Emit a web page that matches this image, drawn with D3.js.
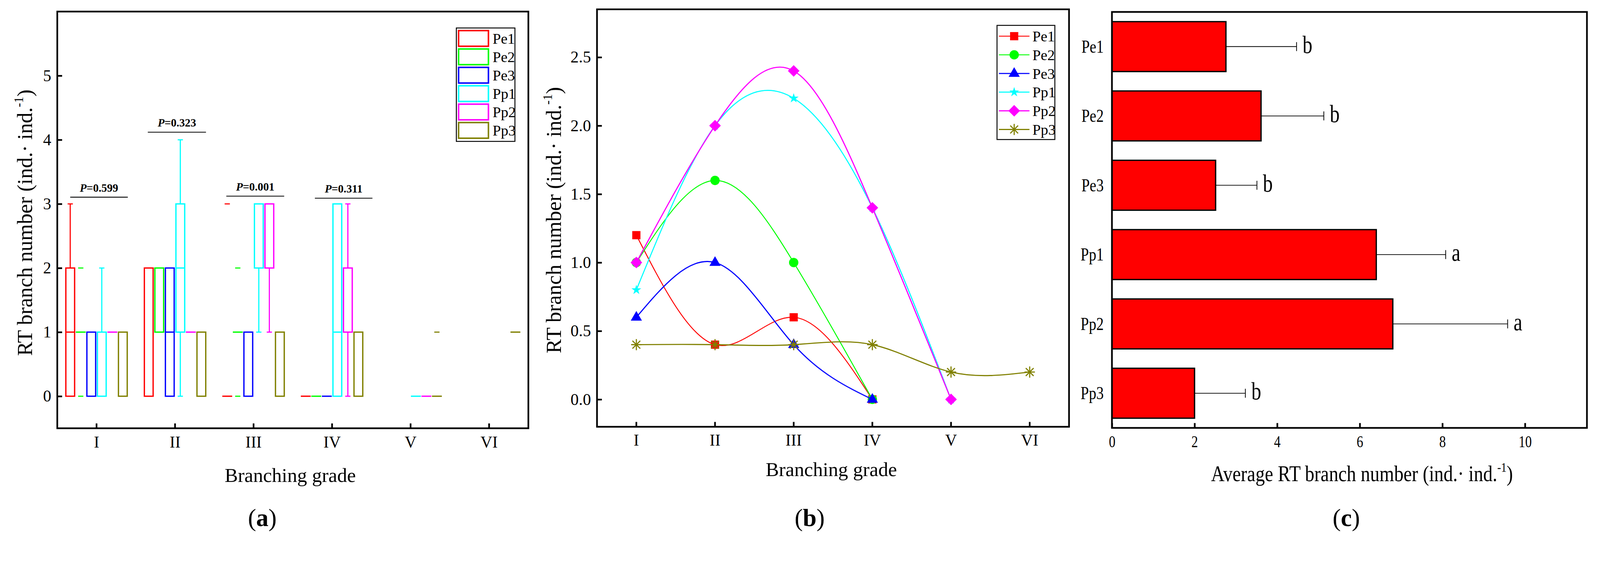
<!DOCTYPE html>
<html>
<head>
<meta charset="utf-8">
<script src="https://cdn.jsdelivr.net/npm/d3@7"></script>
<style>
  html, body { margin: 0; padding: 0; background: #fff; overflow: hidden; }
  svg { display: block; width: 100vw; height: auto; }
  text { font-family: "Liberation Serif", "Times New Roman", serif; fill: #000; }
</style>
</head>
<body>
<svg id="chart" viewBox="0 0 4288 1439" preserveAspectRatio="xMidYMid meet"></svg>
<script>
// ---------------- DATA ----------------
const grades = ["I", "II", "III", "IV", "V", "VI"];
const seriesNames = ["Pe1", "Pe2", "Pe3", "Pp1", "Pp2", "Pp3"];
const seriesColors = ["#ff0000", "#00ff00", "#0000ff", "#00ffff", "#ff00ff", "#808000"];

// (a) box statistics per grade: [min, q1, median, q3, max]
const pe1Box = [[0, 0, 1, 2, 3], [0, 0, 2, 2, 2], [0, 0, 0, 0, 0], [0, 0, 0, 0, 0], null, null];
const pe2Box = [[1, 1, 1, 1, 1], [1, 1, 2, 2, 2], [1, 1, 1, 1, 1], [0, 0, 0, 0, 0], null, null];
const pe3Box = [[0, 0, 1, 1, 1], [0, 0, 1, 2, 2], [0, 0, 1, 1, 1], [0, 0, 0, 0, 0], null, null];
const pp1Box = [[0, 0, 1, 1, 2], [0, 1, 2, 3, 4], [1, 2, 3, 3, 3], [0, 0, 1, 3, 3], [0, 0, 0, 0, 0], null];
const pp2Box = [[1, 1, 1, 1, 1], [1, 1, 1, 1, 1], [1, 2, 3, 3, 3], [0, 1, 2, 2, 3], [0, 0, 0, 0, 0], null];
const pp3Box = [[0, 0, 1, 1, 1], [0, 0, 1, 1, 1], [0, 0, 1, 1, 1], [0, 0, 1, 1, 1], [0, 0, 0, 0, 0], [1, 1, 1, 1, 1]];
// (a) outliers: [gradeIndex, value]
const pe1Out = [[2, 3]];
const pe2Out = [[0, 2], [0, 0], [2, 2], [2, 0]];
const pe3Out = [];
const pp1Out = [];
const pp2Out = [];
const pp3Out = [[4, 1]];
// (a) P-value annotations
const pValues = ["0.599", "0.323", "0.001", "0.311"];
const pBarLevel = [3.105, 4.118, 3.121, 3.089];
const pBarFrom = [-0.335, -0.347, -0.347, -0.219];
const pBarTo = [0.398, 0.394, 0.390, 0.514];
const yTicksA = [0, 1, 2, 3, 4, 5];

// (b) mean branch number per grade
const pe1Mean = [1.2, 0.4, 0.6, 0.0, null, null];
const pe2Mean = [1.0, 1.6, 1.0, 0.0, null, null];
const pe3Mean = [0.6, 1.0, 0.4, 0.0, null, null];
const pp1Mean = [0.8, 2.0, 2.2, 1.4, 0.0, null];
const pp2Mean = [1.0, 2.0, 2.4, 1.4, 0.0, null];
const pp3Mean = [0.4, 0.4, 0.4, 0.4, 0.2, 0.2];
const yTicksB = [0, 0.5, 1.0, 1.5, 2.0, 2.5];

// (c) average RT branch number
const avgValues = [2.76, 3.61, 2.51, 6.40, 6.80, 2.00];
const avgErrors = [1.71, 1.52, 1.00, 1.68, 2.78, 1.23];
const avgLetters = ["b", "b", "b", "a", "a", "b"];
const xTicksC = [0, 2, 4, 6, 8, 10];

// ---------------- HELPERS ----------------
const svg = d3.select("#chart");
const FRAME_W = 4.5;

function condense(sel, f) {
  sel.each(function () {
    const L = this.getComputedTextLength();
    d3.select(this).attr("textLength", L * f).attr("lengthAdjust", "spacingAndGlyphs");
  });
}

function styleAxis(g, fs) {
  g.select(".domain").remove();
  g.selectAll(".tick line").attr("stroke", "#000").attr("stroke-width", FRAME_W);
  g.selectAll(".tick text")
    .attr("font-family", "Liberation Serif, Times New Roman, serif")
    .attr("font-size", fs).attr("fill", "#000");
  g.attr("font-family", null).attr("font-size", null);
}

function frame(x0, x1, y0, y1) {
  svg.append("rect").attr("x", x0).attr("y", y0).attr("width", x1 - x0).attr("height", y1 - y0)
    .attr("fill", "none").attr("stroke", "#000").attr("stroke-width", FRAME_W);
}

function yTitle(x, y, fs) {
  const t = svg.append("text").attr("transform", `translate(${x},${y}) rotate(-90)`)
    .attr("text-anchor", "middle").attr("font-size", fs);
  t.append("tspan").text("RT branch number (ind.\u00B7 ind.");
  t.append("tspan").attr("font-size", fs * 0.6).attr("dy", -fs * 0.42).text("-1");
  t.append("tspan").attr("dy", fs * 0.42).text(")");
  return t;
}

function panelLabel(x, y, letter) {
  const t = svg.append("text").attr("x", x).attr("y", y).attr("text-anchor", "middle").attr("font-size", 66);
  t.append("tspan").text("(");
  t.append("tspan").attr("font-weight", "bold").text(letter);
  t.append("tspan").text(")");
}

// ---------------- PANEL (a) ----------------
{
  const L = 153.5, R = 1416, T = 31, B = 1148;
  const x = d3.scaleBand().domain(grades).range([L, R]);
  const y = d3.scaleLinear().domain([-0.5, 6]).range([B, T]);
  const bw = x.bandwidth();
  const slot = 28.2, boxW = 23.5, capW = 14;
  const boxes = [pe1Box, pe2Box, pe3Box, pp1Box, pp2Box, pp3Box];
  const outs = [pe1Out, pe2Out, pe3Out, pp1Out, pp2Out, pp3Out];

  const gA = svg.append("g");
  boxes.forEach((series, si) => {
    const col = seriesColors[si];
    const g = gA.append("g").attr("stroke", col).attr("fill", "none");
    series.forEach((s, gi) => {
      if (!s) return;
      const cx = x(grades[gi]) + bw / 2 + (si - 2.5) * slot;
      const [mn, q1, md, q3, mx] = s;
      if (mx > q3) {
        g.append("line").attr("x1", cx).attr("x2", cx).attr("y1", y(q3)).attr("y2", y(mx)).attr("stroke-width", 3);
        g.append("line").attr("x1", cx - capW / 2).attr("x2", cx + capW / 2).attr("y1", y(mx)).attr("y2", y(mx)).attr("stroke-width", 3);
      }
      if (mn < q1) {
        g.append("line").attr("x1", cx).attr("x2", cx).attr("y1", y(q1)).attr("y2", y(mn)).attr("stroke-width", 3);
        g.append("line").attr("x1", cx - capW / 2).attr("x2", cx + capW / 2).attr("y1", y(mn)).attr("y2", y(mn)).attr("stroke-width", 3);
      }
      if (q3 > q1) {
        g.append("rect").attr("x", cx - boxW / 2).attr("y", y(q3)).attr("width", boxW)
          .attr("height", y(q1) - y(q3)).attr("stroke-width", 3.5);
        if (md > q1 && md < q3) {
          g.append("line").attr("x1", cx - boxW / 2).attr("x2", cx + boxW / 2)
            .attr("y1", y(md)).attr("y2", y(md)).attr("stroke-width", 3.5);
        }
      } else {
        g.append("line").attr("x1", cx - boxW / 2 - 1.5).attr("x2", cx + boxW / 2 + 1.5)
          .attr("y1", y(q1)).attr("y2", y(q1)).attr("stroke-width", 3.5);
      }
    });
    outs[si].forEach(([gi, v]) => {
      const cx = x(grades[gi]) + bw / 2 + (si - 2.5) * slot;
      g.append("line").attr("x1", cx - capW / 2).attr("x2", cx + capW / 2)
        .attr("y1", y(v)).attr("y2", y(v)).attr("stroke-width", 3);
    });
  });

  // P-value annotations
  pValues.forEach((p, i) => {
    const c = x(grades[i]) + bw / 2;
    const x1 = c + pBarFrom[i] * bw, x2 = c + pBarTo[i] * bw;
    svg.append("line").attr("x1", x1).attr("x2", x2).attr("y1", y(pBarLevel[i])).attr("y2", y(pBarLevel[i]))
      .attr("stroke", "#000").attr("stroke-width", 2.2);
    const t = svg.append("text").attr("x", (x1 + x2) / 2).attr("y", y(pBarLevel[i]) - 15)
      .attr("text-anchor", "middle").attr("font-size", 30).attr("font-weight", "bold");
    t.append("tspan").attr("font-style", "italic").text("P");
    t.append("tspan").text("=" + p);
  });

  frame(L, R, T, B);
  const ax = svg.append("g").attr("transform", `translate(0,${B})`)
    .call(d3.axisBottom(x).tickSize(-13).tickPadding(21));
  styleAxis(ax, 44);
  const ay = svg.append("g").attr("transform", `translate(${L},0)`)
    .call(d3.axisLeft(y).tickValues(yTicksA).tickSize(-13).tickPadding(16).tickFormat(d3.format("d")));
  styleAxis(ay, 44);

  // legend
  const lg = svg.append("g");
  lg.append("rect").attr("x", 1223).attr("y", 75).attr("width", 157).attr("height", 304)
    .attr("fill", "#fff").attr("stroke", "#000").attr("stroke-width", 2.5);
  seriesNames.forEach((n, i) => {
    const cy = 103 + i * 49.3;
    lg.append("rect").attr("x", 1229).attr("y", cy - 21).attr("width", 80).attr("height", 42)
      .attr("fill", "none").attr("stroke", seriesColors[i]).attr("stroke-width", 4);
    lg.append("text").attr("x", 1320).attr("y", cy + 14).attr("font-size", 40).text(n);
  });

  svg.append("text").attr("x", 778).attr("y", 1292).attr("text-anchor", "middle")
    .attr("font-size", 53).text("Branching grade");
  yTitle(86, 597, 57);
  panelLabel(703, 1410, "a");
}

// ---------------- PANEL (b) ----------------
{
  const L = 1600, R = 2865, T = 25, B = 1144;
  const x = d3.scaleBand().domain(grades).range([L, R]);
  const y = d3.scaleLinear().domain([-0.2, 2.85]).range([B, T]);
  const bw = x.bandwidth();
  const means = [pe1Mean, pe2Mean, pe3Mean, pp1Mean, pp2Mean, pp3Mean];
  const lineW = [2.5, 2.5, 3, 2.8, 3, 3];

  const tri = "M0,-17L15,9L-15,9Z";
  const ast = "M0,-15V15M-14,0H14M-10.5,-10.5L10.5,10.5M-10.5,10.5L10.5,-10.5";
  const markers = [
    { path: d3.symbol(d3.symbolSquare, 484)(), rot: 0, fill: true },
    { path: d3.symbol(d3.symbolCircle, 490)(), rot: 0, fill: true },
    { path: tri, rot: 0, fill: true },
    { path: d3.symbol(d3.symbolStar, 215)(), rot: 0, fill: true },
    { path: d3.symbol(d3.symbolSquare, 484)(), rot: 45, fill: true },
    { path: ast, rot: 0, fill: false }
  ];
  function drawMarker(g, i, px, py) {
    const m = markers[i];
    const p = g.append("path").attr("d", m.path)
      .attr("transform", `translate(${px},${py}) rotate(${m.rot})`);
    if (m.fill) p.attr("fill", seriesColors[i]).attr("stroke", "none");
    else p.attr("fill", "none").attr("stroke", seriesColors[i]).attr("stroke-width", 3);
  }

  const line = d3.line()
    .defined(d => d.v !== null)
    .x(d => x(d.g) + bw / 2)
    .y(d => y(d.v))
    .curve(d3.curveNatural);

  means.forEach((arr, si) => {
    const data = arr.map((v, i) => ({ g: grades[i], v }));
    const g = svg.append("g");
    g.append("path").datum(data).attr("d", line).attr("fill", "none")
      .attr("stroke", seriesColors[si]).attr("stroke-width", lineW[si]);
    data.forEach(d => { if (d.v !== null) drawMarker(g, si, x(d.g) + bw / 2, y(d.v)); });
  });

  frame(L, R, T, B);
  const ax = svg.append("g").attr("transform", `translate(0,${B})`)
    .call(d3.axisBottom(x).tickSize(-13).tickPadding(19));
  styleAxis(ax, 44);
  const ay = svg.append("g").attr("transform", `translate(${L},0)`)
    .call(d3.axisLeft(y).tickValues(yTicksB).tickSize(-13).tickPadding(16).tickFormat(d3.format(".1f")));
  styleAxis(ay, 44);

  // legend
  const lg = svg.append("g");
  lg.append("rect").attr("x", 2672).attr("y", 68).attr("width", 155).attr("height", 306)
    .attr("fill", "#fff").attr("stroke", "#000").attr("stroke-width", 2.5);
  seriesNames.forEach((n, i) => {
    const cy = 97 + i * 50;
    lg.append("line").attr("x1", 2677).attr("x2", 2759).attr("y1", cy).attr("y2", cy)
      .attr("stroke", seriesColors[i]).attr("stroke-width", lineW[i]);
    drawMarker(lg, i, 2718, cy);
    lg.append("text").attr("x", 2767).attr("y", cy + 14).attr("font-size", 40).text(n);
  });

  svg.append("text").attr("x", 2228).attr("y", 1276).attr("text-anchor", "middle")
    .attr("font-size", 53).text("Branching grade");
  yTitle(1503, 590, 57);
  panelLabel(2170, 1410, "b");
}

// ---------------- PANEL (c) ----------------
{
  const L = 2980, R = 4253, T = 32, B = 1147;
  const x = d3.scaleLinear().domain([0, 11.5]).range([L, R]);
  const y = d3.scaleBand().domain(seriesNames).range([T, B]).paddingInner(0.28).paddingOuter(0.14);
  const bh = y.bandwidth();

  seriesNames.forEach((n, i) => {
    const cy = y(n) + bh / 2;
    const xe = x(avgValues[i] + avgErrors[i]);
    svg.append("line").attr("x1", x(avgValues[i])).attr("x2", xe).attr("y1", cy).attr("y2", cy)
      .attr("stroke", "#000").attr("stroke-width", 2);
    svg.append("line").attr("x1", xe).attr("x2", xe).attr("y1", cy - 12).attr("y2", cy + 12)
      .attr("stroke", "#000").attr("stroke-width", 2);
    svg.append("rect").attr("x", x(0)).attr("y", y(n)).attr("width", x(avgValues[i]) - x(0))
      .attr("height", bh).attr("fill", "#ff0000").attr("stroke", "#000").attr("stroke-width", 3.5);
    const t = svg.append("text").attr("x", xe + 16).attr("y", cy + 17).attr("font-size", 66).text(avgLetters[i]);
    condense(t, 0.8);
    const lbl = svg.append("text").attr("x", 2958).attr("y", cy + 16).attr("text-anchor", "end")
      .attr("font-size", 48).text(n);
    condense(lbl, 0.83);
  });

  frame(L, R, T, B);
  const ax = svg.append("g").attr("transform", `translate(0,${B})`)
    .call(d3.axisBottom(x).tickValues(xTicksC).tickSize(-13).tickPadding(20).tickFormat(d3.format("d")));
  styleAxis(ax, 44);
  condense(ax.selectAll(".tick text"), 0.8);

  const t = svg.append("text").attr("x", 3650).attr("y", 1290).attr("text-anchor", "middle").attr("font-size", 60);
  t.append("tspan").text("Average RT branch number (ind.\u00B7 ind.");
  t.append("tspan").attr("font-size", 36).attr("dy", -25).text("-1");
  t.append("tspan").attr("dy", 25).text(")");
  t.attr("textLength", 809).attr("lengthAdjust", "spacingAndGlyphs");
  panelLabel(3608, 1410, "c");
}
</script>
</body>
</html>
